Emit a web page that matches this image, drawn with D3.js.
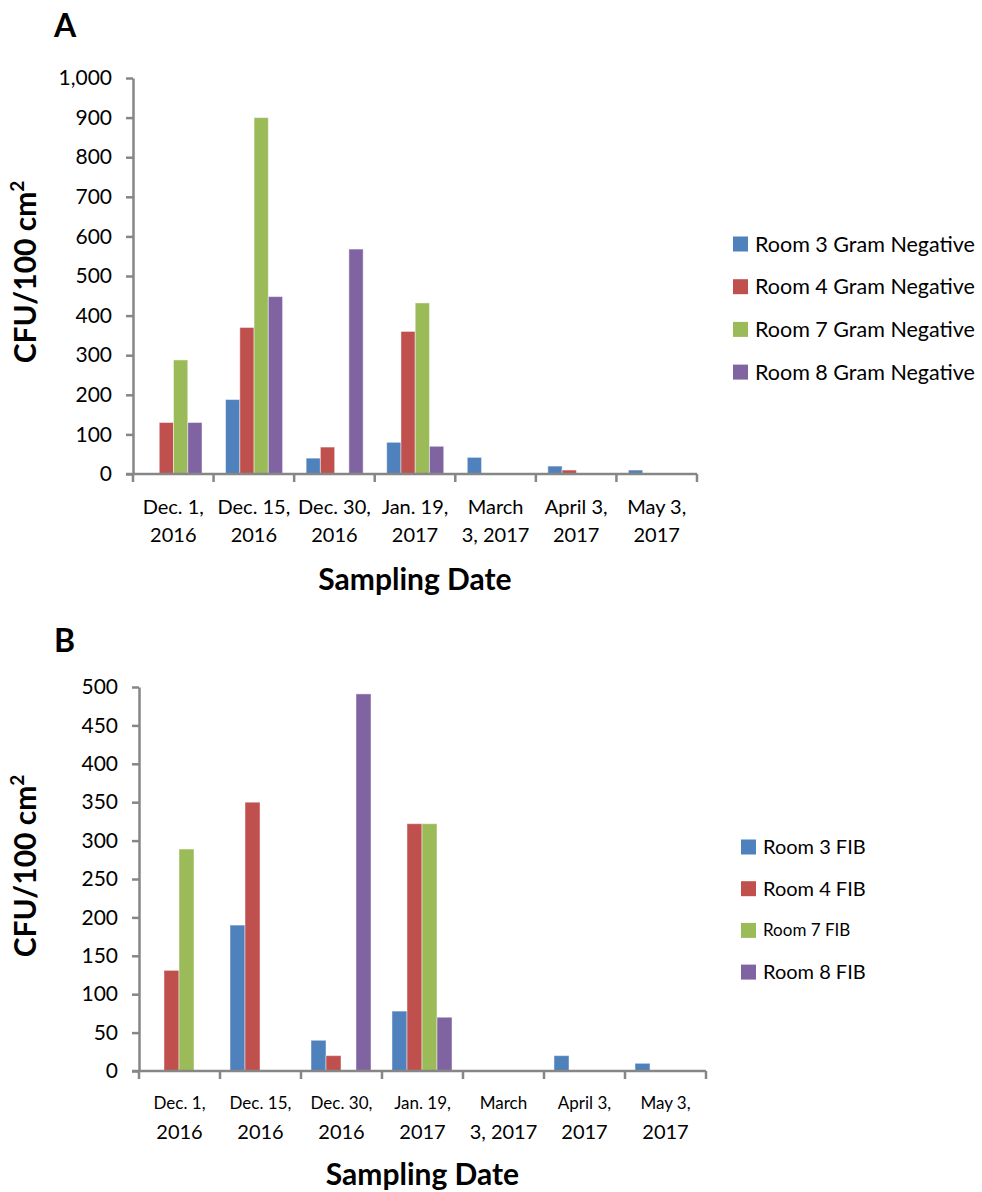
<!DOCTYPE html>
<html>
<head>
<meta charset="utf-8">
<script src="https://cdn.jsdelivr.net/npm/d3@7"></script>
<style>
  body { margin: 0; background: #fff; }
  svg { display: block; font-family: Lato, "Open Sans", sans-serif; }
</style>
</head>
<body>
<svg id="chart"></svg>
<script>
// sampling dates (two-line tick labels)
var dates = [
    ["Dec. 1,", "2016"],
    ["Dec. 15,", "2016"],
    ["Dec. 30,", "2016"],
    ["Jan. 19,", "2017"],
    ["March", "3, 2017"],
    ["April 3,", "2017"],
    ["May 3,", "2017"]
];

// panel A - gram negative counts
var gramSeries = ["Room 3 Gram Negative", "Room 4 Gram Negative", "Room 7 Gram Negative", "Room 8 Gram Negative"];
var gramRoom3 = [0, 188, 40, 80, 42, 20, 10];
var gramRoom4 = [130, 370, 68, 360, 0, 10, 0];
var gramRoom7 = [288, 900, 0, 432, 0, 0, 0];
var gramRoom8 = [130, 448, 568, 70, 0, 0, 0];
var gramTicks = [0, 100, 200, 300, 400, 500, 600, 700, 800, 900, 1000];

// panel B - FIB counts
var fibSeries = ["Room 3 FIB", "Room 4 FIB", "Room 7 FIB", "Room 8 FIB"];
var fibRoom3 = [0, 190, 40, 78, 0, 20, 10];
var fibRoom4 = [131, 350, 20, 322, 0, 0, 0];
var fibRoom7 = [289, 0, 0, 322, 0, 0, 0];
var fibRoom8 = [0, 0, 491, 70, 0, 0, 0];
var fibTicks = [0, 50, 100, 150, 200, 250, 300, 350, 400, 450, 500];

var colors = ["#4F81BD", "#C0504D", "#9BBB59", "#8064A2"];
var axisColor = "#868686";

var svg = d3.select("#chart")
    .attr("width", 982)
    .attr("height", 1192);

function drawPanel(p) {
    var g = svg.append("g");

    var x0 = d3.scaleBand()
        .domain(d3.range(dates.length))
        .range([p.left, p.right])
        .padding(0);

    var x1 = d3.scaleBand()
        .domain(d3.range(p.series.length))
        .range([p.inner[0], p.inner[1]])
        .padding(0);

    var y = d3.scaleLinear()
        .domain([0, d3.max(p.ticks)])
        .range([p.bottom, p.top]);

    // bars (zero values are not drawn)
    var rows = [];
    p.values.forEach(function (vals, s) {
        vals.forEach(function (v, i) {
            if (v > 0) rows.push({ s: s, i: i, v: v });
        });
    });

    g.selectAll("rect.bar")
        .data(rows)
        .enter().append("rect")
        .attr("class", "bar")
        .attr("x", d => x0(d.i) + x1(d.s))
        .attr("y", d => y(d.v))
        .attr("width", x1.bandwidth())
        .attr("height", d => y(0) - y(d.v))
        .attr("fill", d => colors[d.s])
        .attr("stroke", "#ffffff")
        .attr("stroke-opacity", 0.45)
        .attr("stroke-width", 1);

    // y axis
    var yAxis = g.append("g")
        .attr("transform", "translate(" + p.left + ",0)")
        .call(d3.axisLeft(y)
            .tickValues(p.ticks)
            .tickFormat(d3.format(","))
            .tickSize(7)
            .tickSizeOuter(0)
            .tickPadding(14));
    yAxis.select(".domain").attr("stroke", axisColor).attr("stroke-width", 2.5);
    yAxis.selectAll(".tick line").attr("stroke", axisColor).attr("stroke-width", 2.5);
    yAxis.selectAll(".tick text")
        .attr("fill", "#000")
        .style("font-size", "21px")
        .style("font-family", "Lato, sans-serif");

    // x axis line and boundary ticks
    g.append("line")
        .attr("x1", p.left - 7).attr("x2", p.right)
        .attr("y1", y(0)).attr("y2", y(0))
        .attr("stroke", axisColor).attr("stroke-width", 2.5);

    var bounds = d3.range(dates.length).map(i => x0(i)).concat([p.right]);
    g.selectAll("line.xtick")
        .data(bounds)
        .enter().append("line")
        .attr("class", "xtick")
        .attr("x1", d => d).attr("x2", d => d)
        .attr("y1", y(0)).attr("y2", y(0) + 8)
        .attr("stroke", axisColor).attr("stroke-width", 2.5);

    // x tick labels
    var lbl = g.selectAll("text.xlab")
        .data(dates)
        .enter().append("text")
        .attr("class", "xlab")
        .attr("text-anchor", "middle")
        .style("font-size", "20px");
    lbl.append("tspan")
        .attr("x", (d, i) => x0(i) + x0.bandwidth() / 2)
        .attr("y", y(0) + p.lab1)
        .style("font-size", p.firstLineSize)
        .text(d => d[0]);
    lbl.append("tspan")
        .attr("x", (d, i) => x0(i) + x0.bandwidth() / 2)
        .attr("y", y(0) + p.lab2)
        .text(d => d[1]);

    // axis titles
    g.append("text")
        .attr("x", (p.left + p.right) / 2)
        .attr("y", y(0) + p.xTitle)
        .attr("text-anchor", "middle")
        .style("font-size", "30px")
        .style("font-weight", "bold")
        .text("Sampling Date");

    var yt = g.append("text")
        .attr("transform", "translate(36," + p.yTitleY + ") rotate(-90)")
        .attr("text-anchor", "middle")
        .style("font-size", "30px")
        .style("font-weight", "bold")
        .text("CFU/100 cm");
    yt.append("tspan")
        .attr("dy", -12)
        .style("font-size", "19px")
        .text("2");

    // panel letter
    g.append("text")
        .attr("x", 54)
        .attr("y", p.letterY)
        .style("font-size", "32px")
        .style("font-weight", "bold")
        .text(p.letter);

    // legend
    var leg = g.selectAll("g.legend")
        .data(p.series)
        .enter().append("g")
        .attr("class", "legend")
        .attr("transform", (d, i) => "translate(" + p.legX + "," + (p.legY + i * p.legStep) + ")");
    leg.append("rect")
        .attr("x", 0).attr("y", -7.5)
        .attr("width", 15).attr("height", 15)
        .attr("fill", (d, i) => colors[i]);
    leg.append("text")
        .attr("x", 22)
        .attr("dy", "0.35em")
        .style("font-size", (d, i) => p.legSizes[i])
        .text(d => d);
}

drawPanel({
    letter: "A", letterY: 37,
    left: 133, right: 697, top: 78, bottom: 474,
    inner: [12, 69],
    series: gramSeries,
    values: [gramRoom3, gramRoom4, gramRoom7, gramRoom8],
    ticks: gramTicks,
    lab1: 40, lab2: 68, firstLineSize: "20px", xTitle: 116,
    yTitleY: 272,
    legX: 733, legY: 244, legStep: 42.7,
    legSizes: ["21.5px", "21.5px", "21.5px", "21.5px"]
});

drawPanel({
    letter: "B", letterY: 652,
    left: 139, right: 706, top: 687, bottom: 1071,
    inner: [10, 70],
    series: fibSeries,
    values: [fibRoom3, fibRoom4, fibRoom7, fibRoom8],
    ticks: fibTicks,
    lab1: 38, lab2: 68, firstLineSize: "17px", xTitle: 114,
    yTitleY: 866,
    legX: 741, legY: 847, legStep: 41.7,
    legSizes: ["20px", "20px", "17px", "20px"]
});
</script>
</body>
</html>
